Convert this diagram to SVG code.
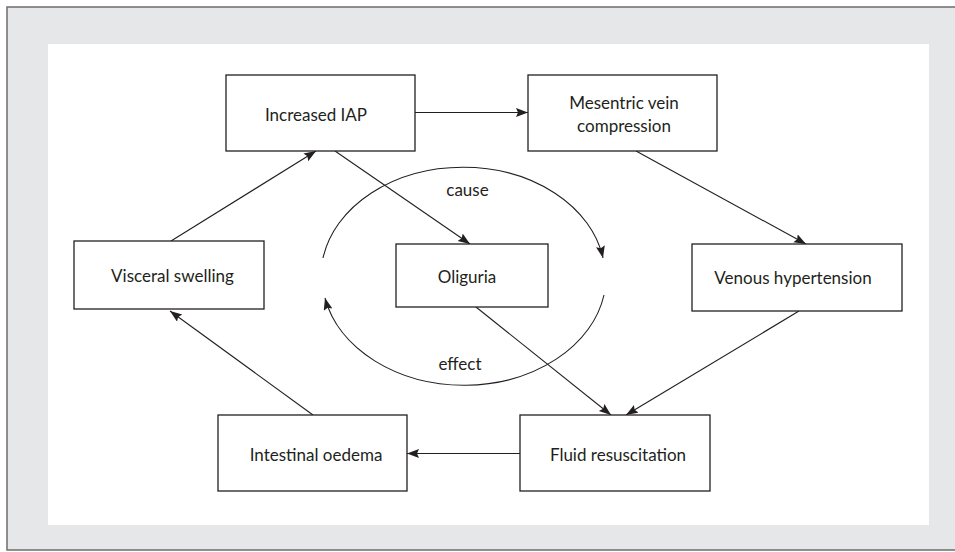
<svg xmlns="http://www.w3.org/2000/svg" width="955" height="552" viewBox="0 0 955 552">
<style>
.box{fill:#fff;stroke:#231f20;stroke-width:1.3}
.lbl{font-family:Lato,"Open Sans","Liberation Sans",sans-serif;font-size:17px;fill:#231f20;text-anchor:middle}
.con{fill:none;stroke:#231f20;stroke-width:1.1}
</style>
<defs>
<marker id="ah" markerUnits="userSpaceOnUse" markerWidth="14" markerHeight="10" refX="12" refY="4.5" orient="auto">
<path d="M0,0 L12,4.5 L0,9 L2,4.5 z" fill="#231f20"/>
</marker>
</defs>
<rect x="7" y="7" width="960" height="543" fill="#e6e7e8" stroke="#6d6e70" stroke-width="1.5"/>
<rect x="48" y="44" width="881" height="481" fill="#fff"/>
<g id="connectors">
<line class="con" x1="415" y1="112.5" x2="528" y2="112.5" marker-end="url(#ah)"/>
<line class="con" x1="636" y1="151" x2="806" y2="244" marker-end="url(#ah)"/>
<line class="con" x1="799" y1="311" x2="626" y2="415" marker-end="url(#ah)"/>
<line class="con" x1="476" y1="307" x2="611" y2="415" marker-end="url(#ah)"/>
<line class="con" x1="335" y1="151" x2="470" y2="244" marker-end="url(#ah)"/>
<line class="con" x1="171" y1="241" x2="316" y2="151" marker-end="url(#ah)"/>
<line class="con" x1="313" y1="415" x2="170" y2="311" marker-end="url(#ah)"/>
<line class="con" x1="520" y1="453.5" x2="407" y2="453.5" marker-end="url(#ah)"/>
<path class="con" d="M323,258 A142,109 0 0 1 603,258" marker-end="url(#ah)"/>
<path class="con" d="M604,295 A142,109 0 0 1 325,298" marker-end="url(#ah)"/>
<text class="lbl" x="467.5" y="196">cause</text>
<text class="lbl" x="460" y="370">effect</text>
</g>
<g id="n-iap"><rect class="box" x="226" y="75" width="189" height="76"/><text class="lbl" x="316" y="121">Increased IAP</text></g>
<g id="n-mesentric"><rect class="box" x="528" y="75" width="189" height="76"/><text class="lbl" x="624" y="109">Mesentric vein</text><text class="lbl" x="624" y="132">compression</text></g>
<g id="n-visceral"><rect class="box" x="74" y="241" width="190" height="68"/><text class="lbl" x="172.5" y="282">Visceral swelling</text></g>
<g id="n-oliguria"><rect class="box" x="396" y="244" width="152" height="63"/><text class="lbl" x="467" y="283">Oliguria</text></g>
<g id="n-venous"><rect class="box" x="692" y="244" width="210" height="67"/><text class="lbl" x="793" y="284">Venous hypertension</text></g>
<g id="n-intestinal"><rect class="box" x="218" y="415" width="189" height="76"/><text class="lbl" x="316" y="461">Intestinal oedema</text></g>
<g id="n-fluid"><rect class="box" x="520" y="415" width="190" height="76"/><text class="lbl" x="618" y="461">Fluid resuscitation</text></g>
</svg>
